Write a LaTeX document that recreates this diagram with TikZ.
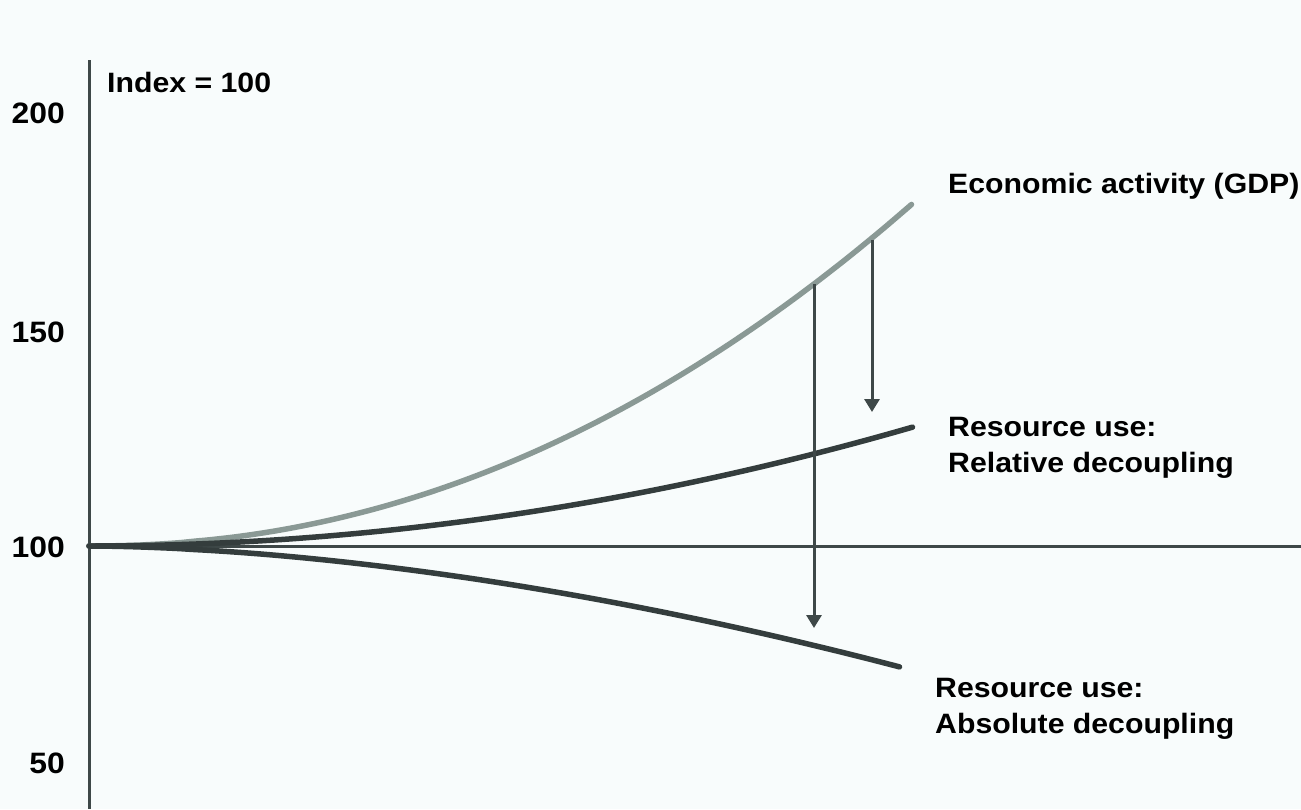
\documentclass[tikz,border=0pt]{standalone}
\usepackage{fontspec}
\setmainfont{Liberation Sans}[FakeStretch=1.08]
\usepackage{xcolor}
\usepackage{tikz}
\usetikzlibrary{positioning,arrows.meta}
\definecolor{axisgray}{HTML}{3E4848}
\definecolor{gdpgray}{HTML}{8A9995}
\definecolor{usegray}{HTML}{343D3D}
\definecolor{paper}{HTML}{F8FCFC}

\begin{document}
\begin{tikzpicture}[x=1pt,y=-1pt,
  lbl/.style={font=\fontsize{28}{36}\selectfont\bfseries, inner sep=0pt, align=left},
  tick/.style={font=\fontsize{29.5}{36}\selectfont\bfseries, inner sep=0pt, anchor=base east},
  axis/.style={axisgray, line width=3pt},
  curve/.style={line width=5.5pt, line cap=round},
  drop/.style={axisgray, line width=3pt, -{Triangle[length=13pt,width=15pt]}}]
\fill[paper] (0,0) rectangle (1301,809);
\useasboundingbox (0,0) rectangle (1301,809);
\coordinate (o) at (89,546);
\coordinate (ytop) at (89,60);
\coordinate (ybot) at (89,809);
\coordinate (xend) at (1301,546);
\draw[axis] (ytop) -- (ybot);
\draw[axis] (o) -- (xend);
\foreach \v/\y in {200/123,150/342,100/557,50/773}
  \node[tick] (t\v) at (65,\y) {\v};
\node[lbl, anchor=base west] (idx) at (107,92) {Index = 100};
\draw[curve,gdpgray] (o) -- plot[domain=0.01:1,samples=60,smooth] ({89+823*\x},{546-342*(\x)^2.1});
\draw[curve,usegray] (o) -- plot[domain=0.01:1,samples=60,smooth] ({89+824*\x},{546-119*(\x)^2});
\draw[curve,usegray] (o) -- plot[domain=0.01:1,samples=60,smooth] ({89+811*\x},{546+121*(\x)^1.75});
\coordinate (g1) at (814,284);
\coordinate (d1) at (814,628);
\coordinate (g2) at (872,240);
\coordinate (d2) at (872,412);
\draw[drop] (g1) -- (d1);
\draw[drop] (g2) -- (d2);
\node[lbl, anchor=base west] (gdp) at (948,193) {Economic activity (GDP)};
\node[lbl, anchor=north west] (rel) at (948,417) {Resource use:\\Relative decoupling};
\node[lbl, anchor=north west] (abs) at (935,678) {Resource use:\\Absolute decoupling};
\end{tikzpicture}
\end{document}
